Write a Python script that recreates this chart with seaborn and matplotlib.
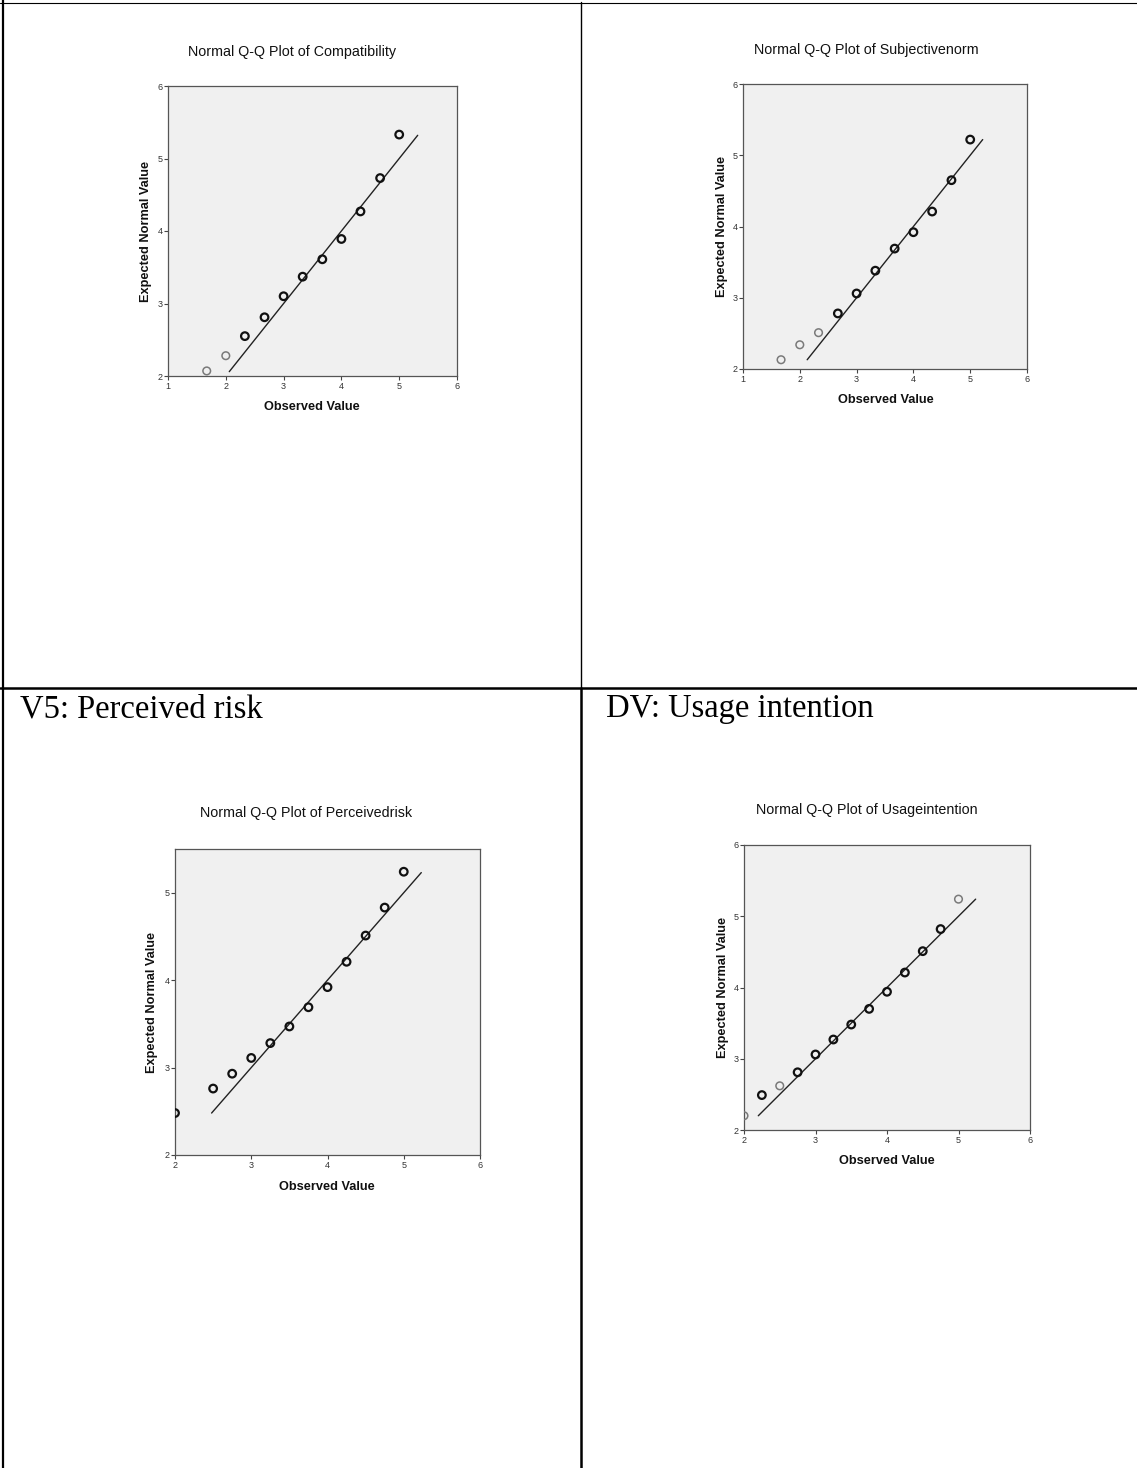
import matplotlib
matplotlib.use("Agg")
import matplotlib.pyplot as plt
import seaborn as sns
import pandas as pd
from matplotlib.lines import Line2D

sns.set_style("white")
plt.rcParams['font.family'] = ['Liberation Sans', 'DejaVu Sans']

# ---- data ----
comp_obs = [1.67, 2.00, 2.33, 2.67, 3.00, 3.33, 3.67, 4.00, 4.33, 4.67, 5.00]
comp_exp = [2.07, 2.28, 2.55, 2.81, 3.10, 3.37, 3.61, 3.89, 4.27, 4.73, 5.33]
comp_faint = [True, True, False, False, False, False, False, False, False, False, False]
comp_line = [2.06, 5.32]

subj_obs = [1.67, 2.00, 2.33, 2.67, 3.00, 3.33, 3.67, 4.00, 4.33, 4.67, 5.00]
subj_exp = [2.13, 2.34, 2.51, 2.78, 3.06, 3.38, 3.69, 3.92, 4.21, 4.65, 5.22]
subj_faint = [True, True, True, False, False, False, False, False, False, False, False]
subj_line = [2.13, 5.22]

risk_obs = [2.00, 2.50, 2.75, 3.00, 3.25, 3.50, 3.75, 4.00, 4.25, 4.50, 4.75, 5.00]
risk_exp = [2.48, 2.76, 2.93, 3.11, 3.28, 3.47, 3.69, 3.92, 4.21, 4.51, 4.83, 5.24]
risk_faint = [False] * 12
risk_line = [2.48, 5.23]

usage_obs = [2.00, 2.25, 2.50, 2.75, 3.00, 3.25, 3.50, 3.75, 4.00, 4.25, 4.50, 4.75, 5.00]
usage_exp = [2.20, 2.49, 2.62, 2.81, 3.06, 3.27, 3.48, 3.70, 3.94, 4.21, 4.51, 4.82, 5.24]
usage_faint = [True, False, True, False, False, False, False, False, False, False, False, False, True]
usage_line = [2.20, 5.24]

titles = ["Normal Q-Q Plot of Compatibility", "Normal Q-Q Plot of Subjectivenorm",
          "Normal Q-Q Plot of Perceivedrisk", "Normal Q-Q Plot of Usageintention"]
section_labels = ["V5: Perceived risk", "DV: Usage intention"]

W, H = 1137, 1468
fig = plt.figure(figsize=(W / 100, H / 100), dpi=100)
fig.patch.set_facecolor("white")

def px(x0, y0, x1, y1):
    return [x0 / W, 1 - y1 / H, (x1 - x0) / W, (y1 - y0) / H]

panels = [
    dict(rect=px(168, 86, 457, 376), obs=comp_obs, exp=comp_exp, faint=comp_faint, line=comp_line,
         xlim=(1, 6), ylim=(2, 6), xt=[1, 2, 3, 4, 5, 6], yt=[2, 3, 4, 5, 6],
         title=titles[0], tpos=(292, 52), xlpos=(312, 407), ylpos=(146, 231)),
    dict(rect=px(743, 84, 1027, 369), obs=subj_obs, exp=subj_exp, faint=subj_faint, line=subj_line,
         xlim=(1, 6), ylim=(2, 6), xt=[1, 2, 3, 4, 5, 6], yt=[2, 3, 4, 5, 6],
         title=titles[1], tpos=(866, 50), xlpos=(886, 400), ylpos=(722, 226)),
    dict(rect=px(175, 849, 480, 1155), obs=risk_obs, exp=risk_exp, faint=risk_faint, line=risk_line,
         xlim=(2, 6), ylim=(2, 5.5), xt=[2, 3, 4, 5, 6], yt=[2, 3, 4, 5],
         title=titles[2], tpos=(306, 813), xlpos=(327, 1187), ylpos=(152, 1002)),
    dict(rect=px(744, 845, 1030, 1130), obs=usage_obs, exp=usage_exp, faint=usage_faint, line=usage_line,
         xlim=(2, 6), ylim=(2, 6), xt=[2, 3, 4, 5, 6], yt=[2, 3, 4, 5, 6],
         title=titles[3], tpos=(867, 810), xlpos=(887, 1161), ylpos=(723, 987)),
]

for p in panels:
    ax = fig.add_axes(p["rect"])
    ax.set_facecolor("#f0f0f0")
    df = pd.DataFrame({"obs": p["obs"], "exp": p["exp"], "faint": p["faint"]})
    ldf = pd.DataFrame({"x": p["line"], "y": p["line"]})
    sns.lineplot(data=ldf, x="x", y="y", ax=ax, color="#222222", linewidth=1.0)
    dark = df[~df["faint"]]
    light = df[df["faint"]]
    sns.scatterplot(data=dark, x="obs", y="exp", ax=ax, marker="o", s=30,
                    facecolor="none", edgecolor="#111111", linewidth=1.6, zorder=3)
    if len(light):
        sns.scatterplot(data=light, x="obs", y="exp", ax=ax, marker="o", s=30,
                        facecolor="none", edgecolor="#7a7a7a", linewidth=1.1, zorder=3)
    ax.set_xlim(*p["xlim"])
    ax.set_ylim(*p["ylim"])
    ax.set_xticks(p["xt"])
    ax.set_yticks(p["yt"])
    ax.set_xlabel("")
    ax.set_ylabel("")
    ax.tick_params(axis="both", which="both", length=3, width=0.8, color="#444444",
                   labelsize=6.5, labelcolor="#333333", pad=1, direction="out",
                   bottom=True, left=True)
    for s in ax.spines.values():
        s.set_color("#555555")
        s.set_linewidth(0.9)
    tx, ty = p["tpos"]
    fig.text(tx / W, 1 - ty / H, p["title"], ha="center", va="center", fontsize=10.3,
             color="#111111")
    xx, xy = p["xlpos"]
    fig.text(xx / W, 1 - xy / H, "Observed Value", ha="center", va="center", fontsize=9.2,
             fontweight="bold", color="#111111")
    yx, yy = p["ylpos"]
    fig.text(yx / W, 1 - yy / H, "Expected Normal Value", ha="center", va="center",
             rotation=90, fontsize=9.2, fontweight="bold", color="#111111")

# table section labels
fig.text(20 / W, 1 - 709 / H, section_labels[0], ha="left", va="center", fontsize=23.5,
         family=["Liberation Serif"], color="black")
fig.text(606 / W, 1 - 709 / H, section_labels[1], ha="left", va="center", fontsize=23.5,
         family=["Liberation Serif"], color="black")

# table borders
def hline(y, x0, x1, lw):
    fig.add_artist(Line2D([x0 / W, x1 / W], [1 - y / H, 1 - y / H], color="black", linewidth=lw))

def vline(x, y0, y1, lw):
    fig.add_artist(Line2D([x / W, x / W], [1 - y0 / H, 1 - y1 / H], color="black", linewidth=lw))

hline(2.5, 0, W, 0.8)
hline(688, 0, W, 1.8)
vline(2.5, 0, H, 1.6)
vline(581, 2, 688, 1.0)
vline(581, 688, H, 1.8)

fig.savefig("out.png", dpi=100, facecolor="white")
